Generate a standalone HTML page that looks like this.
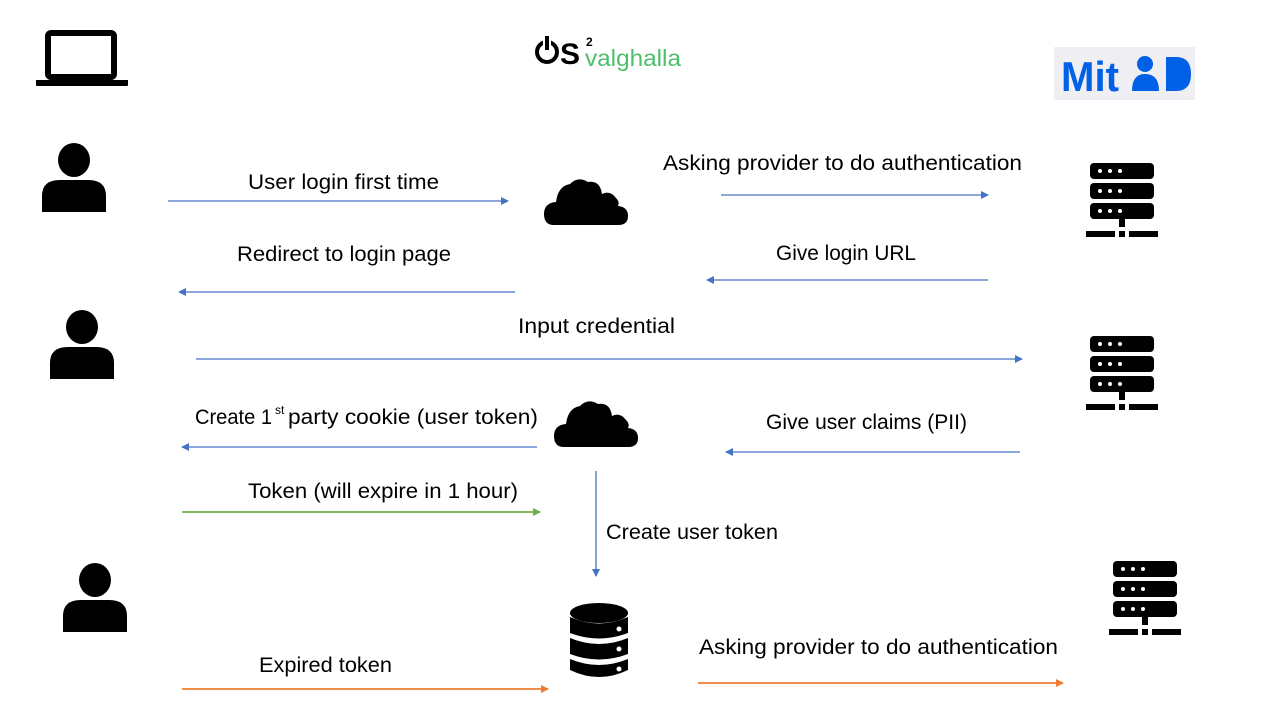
<!DOCTYPE html>
<html><head><meta charset="utf-8"><style>
html,body{margin:0;padding:0;background:#fff;}
svg{display:block;}
text{font-family:"Liberation Sans",sans-serif;font-size:21px;fill:#000;}
</style></head><body>
<svg width="1280" height="720" viewBox="0 0 1280 720" xmlns="http://www.w3.org/2000/svg">
<defs>
<g id="person">
  <ellipse cx="32" cy="16" rx="16" ry="17" fill="#000"/>
  <path d="M0,68 L0,52 Q0,36 18,36 L46,36 Q64,36 64,52 L64,68 Z" fill="#000"/>
</g>
<g id="server">
  <rect x="0" y="0" width="64" height="16" rx="4" fill="#000"/>
  <rect x="0" y="20" width="64" height="16" rx="4" fill="#000"/>
  <rect x="0" y="40" width="64" height="16" rx="4" fill="#000"/>
  <g fill="#fff"><circle cx="10" cy="8" r="2"/><circle cx="20" cy="8" r="2"/><circle cx="30" cy="8" r="2"/>
  <circle cx="10" cy="28" r="2"/><circle cx="20" cy="28" r="2"/><circle cx="30" cy="28" r="2"/>
  <circle cx="10" cy="48" r="2"/><circle cx="20" cy="48" r="2"/><circle cx="30" cy="48" r="2"/></g>
  <rect x="29" y="56" width="6" height="8" fill="#000"/>
  <rect x="-4" y="68" width="29" height="6" fill="#000"/>
  <rect x="29" y="68" width="6" height="6" fill="#000"/>
  <rect x="39" y="68" width="29" height="6" fill="#000"/>
</g>
<g id="cloud">
  <path d="M10,49 Q0,49 0,38 Q0,27 12,26 Q14,10 26,8 Q34,0 44,6 Q56,4 58,18 Q66,14 72,22 Q76,26 74,30 Q84,31 84,40 Q84,49 74,49 Z" fill="#000"/>
</g>
<marker id="ab" markerWidth="8" markerHeight="8" refX="7" refY="4" orient="auto" markerUnits="userSpaceOnUse"><path d="M0,0 L8,4 L0,8 Z" fill="#4472C4"/></marker>
<marker id="ag" markerWidth="8" markerHeight="8" refX="7" refY="4" orient="auto" markerUnits="userSpaceOnUse"><path d="M0,0 L8,4 L0,8 Z" fill="#70AD47"/></marker>
<marker id="ao" markerWidth="8" markerHeight="8" refX="7" refY="4" orient="auto" markerUnits="userSpaceOnUse"><path d="M0,0 L8,4 L0,8 Z" fill="#ED7D31"/></marker>
</defs>

<!-- laptop -->
<rect x="48" y="33" width="66" height="44" rx="3" fill="none" stroke="#000" stroke-width="6"/>
<path d="M36,80 L128,80 L128,85 Q128,86 126,86 L38,86 Q36,86 36,85 Z" fill="#000"/>

<!-- OS2 logo -->
<circle cx="547" cy="52" r="10" fill="none" stroke="#000" stroke-width="4"/>
<rect x="543" y="36" width="8" height="10" fill="#fff"/>
<rect x="545" y="36" width="4" height="14" fill="#000"/>
<text x="560" y="64" style="font-size:30px;font-weight:bold">S</text>
<text x="586" y="46" style="font-size:12px;font-weight:bold">2</text>
<text x="585" y="66" style="font-size:23px;fill:#4CBF6A" textLength="96" lengthAdjust="spacingAndGlyphs">valghalla</text>

<!-- MitID -->
<rect x="1054" y="47" width="141" height="53" fill="#EFEFF3"/>
<text x="1061" y="91" style="font-size:42px;font-weight:bold;fill:#0060E6" textLength="58" lengthAdjust="spacingAndGlyphs">Mit</text>
<circle cx="1145" cy="64" r="8" fill="#0060E6"/>
<path d="M1132,91 Q1132,74 1145,74 Q1159,74 1159,91 Z" fill="#0060E6"/>
<path d="M1166,57 L1176,57 Q1191,57 1191,74 Q1191,91 1176,91 L1166,91 Z" fill="#0060E6"/>

<!-- persons -->
<use href="#person" x="42" y="144"/>
<use href="#person" x="50" y="311"/>
<use href="#person" x="63" y="564"/>

<!-- servers -->
<use href="#server" x="1090" y="163"/>
<use href="#server" x="1090" y="336"/>
<use href="#server" x="1113" y="561"/>

<!-- clouds -->
<use href="#cloud" x="544" y="176"/>
<use href="#cloud" x="554" y="398"/>

<!-- database -->
<g>
  <ellipse cx="599" cy="613" rx="29" ry="10" fill="#000"/>
  <path d="M570,617 Q599,630 628,617 L628,633 Q599,644 570,633 Z" fill="#000"/>
  <path d="M570,638 Q599,650 628,638 L628,654 Q599,665 570,654 Z" fill="#000"/>
  <path d="M570,659 Q599,671 628,659 L628,670 Q599,684 570,670 Z" fill="#000"/>
  <circle cx="619" cy="629" r="2.5" fill="#fff"/><circle cx="619" cy="649" r="2.5" fill="#fff"/><circle cx="619" cy="669" r="2.5" fill="#fff"/>
</g>

<!-- arrows -->
<g stroke-width="1.3" fill="none">
<line x1="168" y1="201" x2="508" y2="201" stroke="#4472C4" marker-end="url(#ab)"/>
<line x1="721" y1="195" x2="988" y2="195" stroke="#4472C4" marker-end="url(#ab)"/>
<line x1="988" y1="280" x2="707" y2="280" stroke="#4472C4" marker-end="url(#ab)"/>
<line x1="515" y1="292" x2="179" y2="292" stroke="#4472C4" marker-end="url(#ab)"/>
<line x1="196" y1="359" x2="1022" y2="359" stroke="#4472C4" marker-end="url(#ab)"/>
<line x1="537" y1="447" x2="182" y2="447" stroke="#4472C4" marker-end="url(#ab)"/>
<line x1="1020" y1="452" x2="726" y2="452" stroke="#4472C4" marker-end="url(#ab)"/>
<line x1="182" y1="512" x2="540" y2="512" stroke="#70AD47" stroke-width="1.8" marker-end="url(#ag)"/>
<line x1="596" y1="471" x2="596" y2="576" stroke="#4472C4" marker-end="url(#ab)"/>
<line x1="182" y1="689" x2="548" y2="689" stroke="#ED7D31" stroke-width="1.8" marker-end="url(#ao)"/>
<line x1="698" y1="683" x2="1063" y2="683" stroke="#ED7D31" stroke-width="1.8" marker-end="url(#ao)"/>
</g>

<!-- labels -->
<g>
<text x="248" y="189" textLength="191" lengthAdjust="spacingAndGlyphs">User login first time</text>
<text x="663" y="170" textLength="359" lengthAdjust="spacingAndGlyphs">Asking provider to do authentication</text>
<text x="237" y="261" textLength="214" lengthAdjust="spacingAndGlyphs">Redirect to login page</text>
<text x="776" y="260" textLength="140" lengthAdjust="spacingAndGlyphs">Give login URL</text>
<text x="518" y="333" textLength="157" lengthAdjust="spacingAndGlyphs">Input credential</text>
<text x="195" y="424" textLength="77" lengthAdjust="spacingAndGlyphs">Create 1</text>
<text x="275" y="414" style="font-size:12px">st</text>
<text x="288" y="424" textLength="250" lengthAdjust="spacingAndGlyphs">party cookie (user token)</text>
<text x="766" y="429" textLength="201" lengthAdjust="spacingAndGlyphs">Give user claims (PII)</text>
<text x="248" y="498" textLength="270" lengthAdjust="spacingAndGlyphs">Token (will expire in 1 hour)</text>
<text x="606" y="539" textLength="172" lengthAdjust="spacingAndGlyphs">Create user token</text>
<text x="259" y="672" textLength="133" lengthAdjust="spacingAndGlyphs">Expired token</text>
<text x="699" y="654" textLength="359" lengthAdjust="spacingAndGlyphs">Asking provider to do authentication</text>
</g>
</svg>
</body></html>
